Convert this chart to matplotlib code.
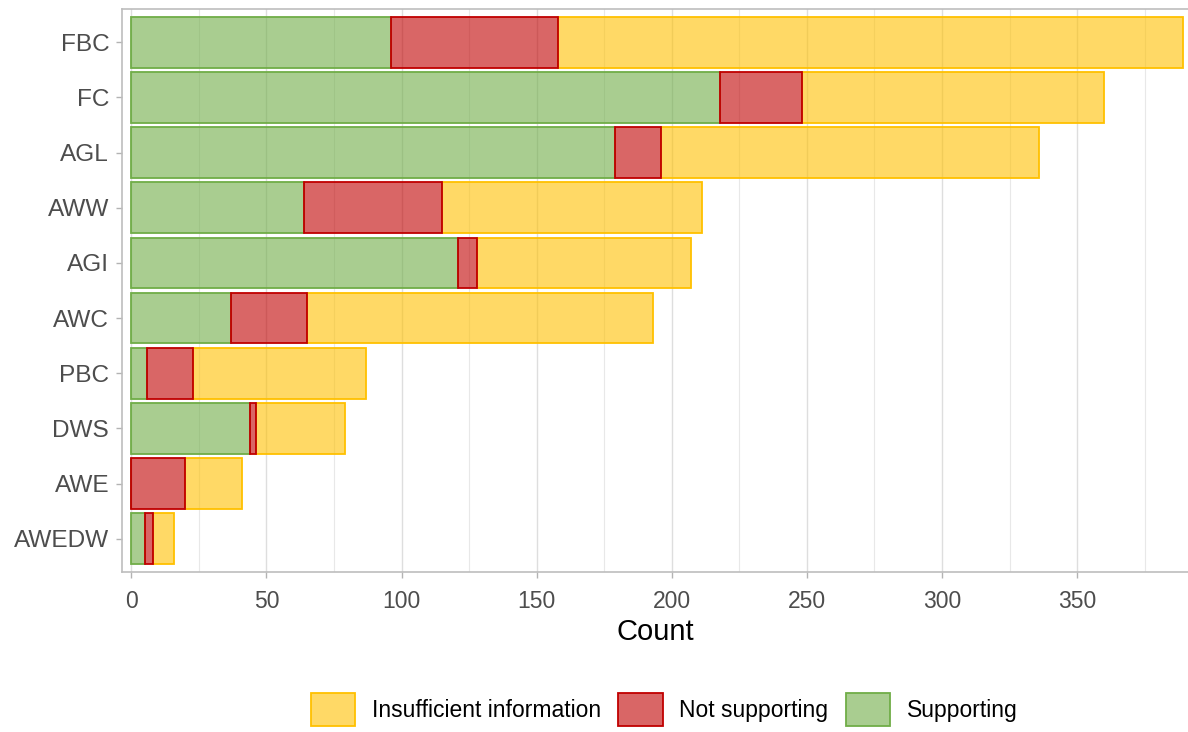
import matplotlib.pyplot as plt
from matplotlib.patches import Patch
from matplotlib.ticker import MultipleLocator

plt.rcParams['font.family'] = ['Liberation Sans', 'DejaVu Sans']

# categories top to bottom
groups = ['FBC', 'FC', 'AGL', 'AWW', 'AGI', 'AWC', 'PBC', 'DWS', 'AWE', 'AWEDW']
supporting = [96, 218, 179, 64, 121, 37, 6, 44, 0, 5]
not_supporting = [62, 30, 17, 51, 7, 28, 17, 2, 20, 3]
insufficient = [231, 112, 140, 96, 79, 128, 64, 33, 21, 8]

labels = ['Insufficient information', 'Not supporting', 'Supporting']
edge_cols = ['#FFC000', '#C00000', '#70AD47']
fill_alpha = 0.6

fig = plt.figure(figsize=(11.88, 7.32), dpi=100)
ax = fig.add_axes([0.1024, 0.2186, 0.8976, 0.7691])

ypos = list(range(len(groups)))[::-1]
left_red = supporting
left_yel = [s + n for s, n in zip(supporting, not_supporting)]


def fill(c):
    r, g, b = [int(c[i:i + 2], 16) / 255 for i in (1, 3, 5)]
    return (r, g, b, fill_alpha)


ax.barh(ypos, insufficient, left=left_yel, height=0.92, color=fill(edge_cols[0]),
        edgecolor=edge_cols[0], linewidth=1.3, zorder=2)
ax.barh(ypos, supporting, height=0.92, color=fill(edge_cols[2]),
        edgecolor=edge_cols[2], linewidth=1.3, zorder=3)
ax.barh(ypos, not_supporting, left=left_red, height=0.92, color=fill(edge_cols[1]),
        edgecolor=edge_cols[1], linewidth=1.3, zorder=4)

ax.set_xlim(-3.55, 391)
ax.set_ylim(-0.6, len(groups) - 0.4)
ax.set_yticks(ypos)
ax.set_yticklabels(groups)
ax.xaxis.set_major_locator(MultipleLocator(50))
ax.xaxis.set_minor_locator(MultipleLocator(25))
ax.grid(which='major', axis='x', color='#DEDEDE', linewidth=1.0, zorder=0)
ax.grid(which='minor', axis='x', color='#E8E8E8', linewidth=0.8, zorder=0)
ax.set_axisbelow(True)

ax.tick_params(axis='both', which='major', labelcolor='#4D4D4D',
               color='#B3B3B3', length=4.5, width=1)
ax.tick_params(axis='x', which='major', labelsize=16.5, pad=8.5)
ax.tick_params(axis='y', which='major', labelsize=17.6, pad=4.5)
ax.tick_params(axis='x', which='minor', length=0)
for side in ['top', 'left', 'bottom']:
    ax.spines[side].set_color('#BDBDBD')
    ax.spines[side].set_linewidth(1.2)
ax.spines['right'].set_visible(False)

ax.set_xlabel('Count', fontsize=21, color='black', labelpad=3.5)

handles = [Patch(facecolor=fill(c), edgecolor=c, linewidth=1.3, label=l)
           for c, l in zip(edge_cols, labels)]
fig.legend(handles=handles, loc='center', bbox_to_anchor=(0.559, 0.031), ncol=3,
           frameon=False, fontsize=16.5, handlelength=1.95, handleheight=1.8,
           handletextpad=0.72, columnspacing=0.75)

fig.savefig('out.png', dpi=100)
